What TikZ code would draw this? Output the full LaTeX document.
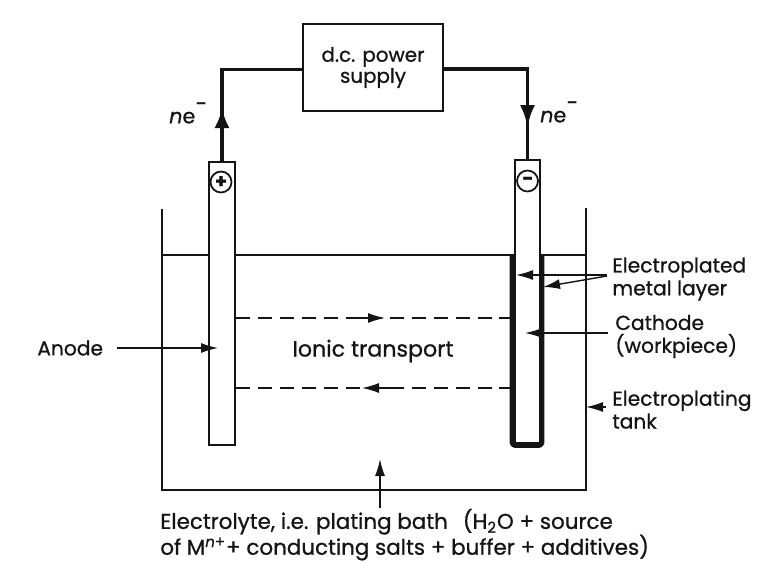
\documentclass[tikz,border=0pt]{standalone}
\usepackage{xcolor}
\usepackage{fontspec}
\setmainfont{Poppins}[RawFeature={embolden=0.8}]
\usetikzlibrary{arrows.meta}
\definecolor{EPInk}{HTML}{141414}
\tikzset{
  label text/.style={text=EPInk,font=\fontsize{11.5}{13}\selectfont,align=left,anchor=west,inner sep=0pt},
  electrode/.style={draw=EPInk,line width=1pt,fill=white,inner sep=0pt},
  wire/.style={draw=EPInk,line width=2.1pt},
  pointer/.style={draw=EPInk,line width=0.8pt,-{Latex[length=0.34cm,width=0.20cm]}},
  flow/.style={draw=EPInk,line width=0.8pt,dash pattern=on 8pt off 4.5pt},
  sign/.style={circle,draw=EPInk,line width=1pt,fill=white,inner sep=0pt,minimum size=0.42cm,font=\bfseries\fontsize{11}{11}\selectfont,text=EPInk}
}
\begin{document}
\begin{tikzpicture}[x=1cm,y=1cm]
\path[use as bounding box] (0,0) rectangle (15.16,11.36);
% tank and liquid level
\draw[EPInk,line width=1.1pt] (3.24,7.18) -- (3.24,1.56) -- (11.72,1.56) -- (11.72,7.20);
\draw[EPInk,line width=0.9pt] (3.24,6.26) -- (11.72,6.26);
% plating is drawn under the cathode
\draw[EPInk,line width=3.4pt,line join=round,rounded corners=0.06cm] (10.25,6.28) -- (10.25,2.46) -- (10.83,2.46) -- (10.83,6.28);
\node[electrode,minimum width=0.52cm,minimum height=5.66cm] (anode) at (4.44,5.29) {};
\node[electrode,minimum width=0.50cm,minimum height=5.66cm] (cathode) at (10.55,5.33) {};
\node[sign] (plus) at (4.42,7.72) {+};
\node[sign] (minus) at (10.55,7.74) {−};
% power supply
\node[draw=EPInk,line width=1.3pt,minimum width=2.80cm,minimum height=1.74cm,align=center,text=EPInk,font=\fontsize{11.3}{13}\selectfont] (power) at (7.46,10.01) {d.c. power\\[-1pt]supply};
\coordinate (tailleft) at (4.44,8.86);
\coordinate (tipleft) at (4.44,9.20);
\coordinate (tailright) at (10.55,9.26);
\coordinate (tipright) at (10.55,8.82);
\draw[wire] (anode.north) |- ([yshift=-0.04cm]power.west);
\draw[wire] ([yshift=-0.03cm]power.east) -| (cathode.north);
\draw[wire,-{Latex[length=0.40cm,width=0.30cm]}] (tailleft) -- (tipleft);
\draw[wire,-{Latex[length=0.44cm,width=0.30cm]}] (tailright) -- (tipright);
\node[text=EPInk,font=\fontsize{11.8}{12}\selectfont] (neleft) at (3.76,9.10) {\textit{n}e\raisebox{1.1ex}{−}};
\node[text=EPInk,font=\fontsize{11.8}{12}\selectfont] (neright) at (11.18,9.12) {\textit{n}e\raisebox{1.1ex}{−}};
% ionic transport
\coordinate (topmid) at (7.70,5.00);
\coordinate (botmid) at (7.24,3.60);
\coordinate (platetop) at (10.20,5.00);
\coordinate (platebot) at (10.20,3.60);
\draw[flow] (anode.east |- topmid) -- (platetop);
\draw[flow] (anode.east |- botmid) -- (platebot);
\draw[pointer] (7.20,5.00) -- (topmid);
\draw[pointer] (7.80,3.60) -- (botmid);
\node[label text,anchor=center,font=\fontsize{12.6}{14}\selectfont] (ionic) at (7.46,4.34) {Ionic transport};
% labels
\node[label text] (anodelabel) at (0.74,4.40) {Anode};
\node[label text] (platelabel) at (12.24,5.78) {Electroplated\\metal layer};
\node[label text] (cathlabel) at (12.30,4.63) {Cathode\\(workpiece)};
\node[label text] (tanklabel) at (12.24,3.17) {Electroplating\\tank};
\node[label text,anchor=north west,font=\fontsize{12.2}{14.7}\selectfont] (bathlabel) at (3.20,1.19) {Electrolyte, i.e. plating bath\hspace{0.7em}(H\textsubscript{2}O + source\\of M\textsuperscript{\textit{n}+}+ conducting salts + buffer + additives)};
\coordinate (leftplate) at (10.32,5.86);
\coordinate (rightplate) at (10.86,5.62);
\coordinate (tankwall) at (11.72,3.22);
\coordinate (bathpoint) at (7.60,2.18);
\draw[pointer] (anodelabel.east) ++(0.28,0) -- (4.36,4.40);
\draw[pointer] (12.14,5.86) -- (leftplate);
\draw[pointer] (12.14,5.84) -- (rightplate);
\draw[pointer] (12.16,4.70) -- (10.50,4.70);
\draw[pointer] (12.12,3.22) -- (tankwall);
\draw[pointer] (7.60,1.20) -- (bathpoint);
\end{tikzpicture}
\end{document}
